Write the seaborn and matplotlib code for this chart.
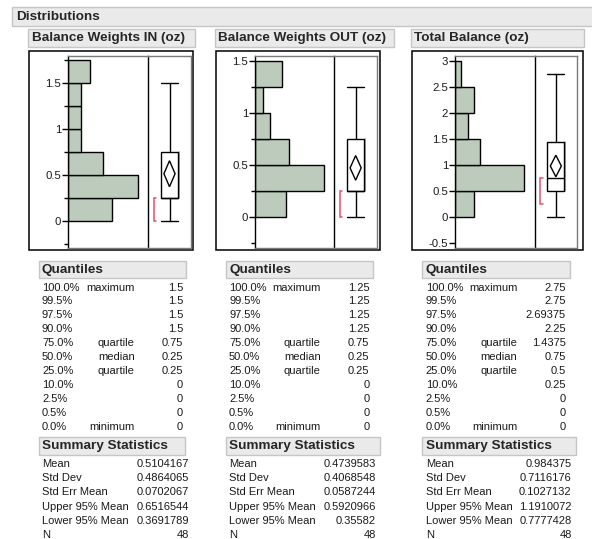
import numpy as np
import matplotlib
matplotlib.use("Agg")
import matplotlib.pyplot as plt
from matplotlib.patches import Rectangle, Polygon
from matplotlib.ticker import FuncFormatter
import seaborn as sns

# ---- data -------------------------------------------------------------
in_levels = [0, 0.25, 0.5, 0.75, 1.0, 1.25, 1.5]
in_counts = [10, 16, 8, 3, 3, 3, 5]

out_levels = [0, 0.25, 0.5, 0.75, 1.0, 1.25]
out_counts = [8, 18, 9, 4, 2, 7]

total_levels = [0, 0.25, 0.5, 0.75, 1.0, 1.25, 1.5, 1.75, 2.0, 2.25, 2.5, 2.75]
total_counts = [3, 3, 15, 7, 3, 5, 2, 2, 3, 3, 1, 1]

quantile_pcts = ["100.0%", "99.5%", "97.5%", "90.0%", "75.0%", "50.0%",
                 "25.0%", "10.0%", "2.5%", "0.5%", "0.0%"]
quantile_names = ["maximum", "", "", "", "quartile", "median",
                  "quartile", "", "", "", "minimum"]
in_quantiles = [1.5, 1.5, 1.5, 1.5, 0.75, 0.25, 0.25, 0, 0, 0, 0]
out_quantiles = [1.25, 1.25, 1.25, 1.25, 0.75, 0.25, 0.25, 0, 0, 0, 0]
total_quantiles = [2.75, 2.75, 2.69375, 2.25, 1.4375, 0.75, 0.5, 0.25, 0, 0, 0]

stat_names = ["Mean", "Std Dev", "Std Err Mean", "Upper 95% Mean",
              "Lower 95% Mean", "N"]
in_stats = [0.5104167, 0.4864065, 0.0702067, 0.6516544, 0.3691789, 48]
out_stats = [0.4739583, 0.4068548, 0.0587244, 0.5920966, 0.35582, 48]
total_stats = [0.984375, 0.7116176, 0.1027132, 1.1910072, 0.7777428, 48]

in_shortest_half = [0, 0.25]
out_shortest_half = [0, 0.25]
total_shortest_half = [0.25, 0.75]

titles = ["Balance Weights IN (oz)", "Balance Weights OUT (oz)", "Total Balance (oz)"]

# ---- style ------------------------------------------------------------
sns.set_style("white")
plt.rcParams["font.family"] = ["Liberation Sans", "DejaVu Sans"]
plt.rcParams["axes.unicode_minus"] = False

W, H = 592, 539
fig = plt.figure(figsize=(W / 100, H / 100), dpi=100)

HDR_FS = 9.7
BODY_FS = 8.05
TXT = "#1a1a1a"
BAR = "#bccbbb"
HDR_FILL = "#eaeaea"
HDR_EDGE = "#c6c6c6"
FRAME_GRAY = "#7a7a7a"
RED = "#e4506a"

# background canvas in pixel units
bg = fig.add_axes([0, 0, 1, 1])
bg.set_xlim(0, W)
bg.set_ylim(H, 0)
bg.axis("off")


def axes_px(x0, x1, y0, y1):
    return fig.add_axes([x0 / W, 1 - y1 / H, (x1 - x0) / W, (y1 - y0) / H])


def header(x0, x1, y0, y1, text, tx):
    bg.add_patch(Rectangle((x0, y0), x1 - x0, y1 - y0, facecolor=HDR_FILL,
                           edgecolor=HDR_EDGE, linewidth=1))
    bg.text(tx, (y0 + y1) / 2 + 0.5, text, fontsize=HDR_FS, fontweight="bold",
            color="#262626", ha="left", va="center")


def fmt(v):
    if isinstance(v, int):
        return str(v)
    return f"{v:.7f}".rstrip("0").rstrip(".")


# report title bar
header(12, 600, 7, 26, "Distributions", 16)

panels = [
    dict(levels=in_levels, counts=in_counts, quant=in_quantiles, stats=in_stats,
         half=in_shortest_half, binwidth=0.25, binrange=(0, 1.75),
         hdr=(28, 195, 32), outer=(29, 193), inner=(68, 148, 191),
         ylim=(-0.297, 1.79), xmax=18.3,
         major=[0, 0.5, 1, 1.5], minor=[-0.25, 0.25, 0.75, 1.25, 1.75],
         lab_x=42, qual_r=134.7, val_r=183, qbox=(38.7, 185.7),
         sbox=(38.7, 185), sval_r=189.3),
    dict(levels=out_levels, counts=out_counts, quant=out_quantiles, stats=out_stats,
         half=out_shortest_half, binwidth=0.25, binrange=(0, 1.5),
         hdr=(214.7, 394, 218.3), outer=(216, 380), inner=(255, 334.3, 377),
         ylim=(-0.295, 1.548), xmax=20.7,
         major=[0, 0.5, 1, 1.5], minor=[-0.25, 0.25, 0.75, 1.25],
         lab_x=229, qual_r=320.7, val_r=369.3, qbox=(225.7, 373.3),
         sbox=(225.7, 380), sval_r=375.7),
    dict(levels=total_levels, counts=total_counts, quant=total_quantiles,
         stats=total_stats, half=total_shortest_half, binwidth=0.5, binrange=(0, 3),
         hdr=(411, 584, 414.3), outer=(412, 583), inner=(455, 534.7, 577),
         ylim=(-0.589, 3.096), xmax=25.5,
         major=[-0.5, 0, 0.5, 1, 1.5, 2, 2.5, 3], minor=[],
         lab_x=425.7, qual_r=517.3, val_r=566, qbox=(422.3, 570),
         sbox=(422.3, 576), sval_r=571.7),
]

for title, p in zip(titles, panels):
    hx0, hx1, htx = p["hdr"]
    header(hx0, hx1, 29, 47, title, htx)

    ox0, ox1 = p["outer"]
    bg.add_patch(Rectangle((ox0, 51), ox1 - ox0, 199, facecolor="none",
                           edgecolor="black", linewidth=1.1))

    ix0, idiv, ix1 = p["inner"]

    # ---- histogram (horizontal bars) ----
    ax = axes_px(ix0, idiv, 56, 248)
    ax.set_facecolor("white")
    sns.histplot(y=p["levels"], weights=p["counts"], binwidth=p["binwidth"],
                 binrange=p["binrange"], stat="count", color=BAR,
                 edgecolor="black", linewidth=1.0, alpha=1, ax=ax)
    ax.set_xlim(0, p["xmax"])
    ax.set_ylim(*p["ylim"])
    ax.set_xlabel("")
    ax.set_ylabel("")
    ax.set_xticks([])
    ax.set_yticks(p["major"])
    ax.set_yticks(p["minor"], minor=True)
    ax.yaxis.set_major_formatter(FuncFormatter(lambda v, _: f"{v:g}"))
    ax.tick_params(axis="y", which="major", direction="out", length=4,
                   width=1, color="black", labelsize=8.2, labelcolor=TXT, pad=1,
                   left=True)
    ax.tick_params(axis="y", which="minor", direction="out", length=3,
                   width=1, color="black", left=True)
    for side in ("top", "bottom"):
        ax.spines[side].set_color(FRAME_GRAY)
        ax.spines[side].set_linewidth(1)
    ax.spines["left"].set_color("black")
    ax.spines["left"].set_linewidth(1)
    ax.spines["right"].set_color("black")
    ax.spines["right"].set_linewidth(1)

    # ---- outlier box plot with mean diamond ----
    bx = axes_px(idiv, ix1, 56, 248)
    bx.patch.set_alpha(0)
    bx.set_xlim(0, 1)
    bx.set_ylim(*p["ylim"])
    bx.set_xticks([])
    bx.set_yticks([])
    for side in ("top", "bottom", "right"):
        bx.spines[side].set_color(FRAME_GRAY)
        bx.spines[side].set_linewidth(1)
    bx.spines["left"].set_visible(False)

    q = p["quant"]
    box_stats = [dict(med=q[5], q1=q[6], q3=q[4], whislo=q[10], whishi=q[0],
                      fliers=[])]
    bx.bxp(box_stats, positions=[0.5], widths=0.4, showfliers=False,
           manage_ticks=False, patch_artist=True,
           boxprops=dict(facecolor="white", edgecolor="black", linewidth=1),
           medianprops=dict(color="black", linewidth=1),
           whiskerprops=dict(color="black", linewidth=1),
           capprops=dict(color="black", linewidth=1), capwidths=0.4)
    # soft shadow along the right side of the box
    bx.plot([0.715, 0.715], [q[6], q[4]], color="#9a9a9a", linewidth=1.2,
            zorder=1.5)

    mean, lo, hi = p["stats"][0], p["stats"][4], p["stats"][3]
    bx.add_patch(Polygon([(0.5, lo), (0.63, mean), (0.5, hi), (0.37, mean)],
                         closed=True, facecolor="none", edgecolor="black",
                         linewidth=1, zorder=5))

    s0, s1 = p["half"]
    bx.plot([0.19, 0.13, 0.13, 0.19], [s0, s0, s1, s1], color=RED,
            linewidth=1.1, solid_joinstyle="miter")

    # ---- Quantiles table ----
    qx0, qx1 = p["qbox"]
    header(qx0, qx1, 261, 277.7, "Quantiles", p["lab_x"])
    for i, (pct, nm, v) in enumerate(zip(quantile_pcts, quantile_names, q)):
        y = 287.6 + i * 13.9
        bg.text(p["lab_x"], y, pct, fontsize=BODY_FS, color=TXT,
                ha="left", va="center")
        if nm:
            bg.text(p["qual_r"], y, nm, fontsize=BODY_FS, color=TXT,
                    ha="right", va="center")
        bg.text(p["val_r"], y, fmt(v), fontsize=BODY_FS, color=TXT,
                ha="right", va="center")

    # ---- Summary Statistics table ----
    sx0, sx1 = p["sbox"]
    header(sx0, sx1, 436.7, 455, "Summary Statistics", p["lab_x"])
    for i, (nm, v) in enumerate(zip(stat_names, p["stats"])):
        y = 464.3 + i * 14.07
        bg.text(p["lab_x"], y, nm, fontsize=BODY_FS, color=TXT,
                ha="left", va="center")
        bg.text(p["sval_r"], y, fmt(v), fontsize=BODY_FS, color=TXT,
                ha="right", va="center")

fig.savefig("out.png", dpi=100)
